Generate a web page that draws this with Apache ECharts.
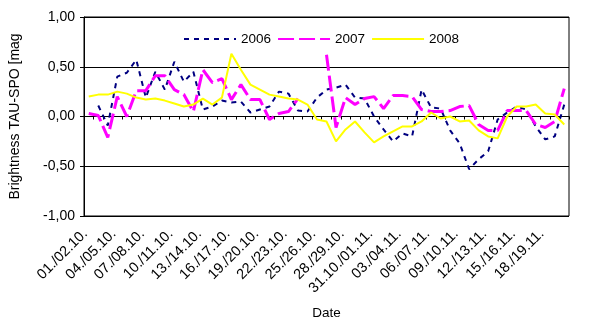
<!DOCTYPE html>
<html><head><meta charset="utf-8">
<script src="https://cdn.jsdelivr.net/npm/echarts@6/dist/echarts.min.js"></script>
<style>html,body{margin:0;padding:0;background:#fff}#c{width:589px;height:334px}</style>
</head><body><div id="c"></div>
<script>
const categories = ["01./02.10.","02./03.10.","03./04.10.","04./05.10.","05./06.10.","06./07.10.","07./08.10.","08./09.10.","09./10.10.","10./11.10.","11./12.10.","12./13.10.","13./14.10.","14./15.10.","15./16.10.","16./17.10.","17./18.10.","18./19.10.","19./20.10.","20./21.10.","21./22.10.","22./23.10.","23./24.10.","24./25.10.","25./26.10.","26./27.10.","27./28.10.","28./29.10.","29./30.10.","30./31.10.","31.10./01.11.","01./02.11.","02./03.11.","03./04.11.","04./05.11.","05./06.11.","06./07.11.","07./08.11.","08./09.11.","09./10.11.","10./11.11.","11./12.11.","12./13.11.","13./14.11.","14./15.11.","15./16.11.","16./17.11.","17./18.11.","18./19.11.","19./20.11.","20./21.11."];
const s2006 = [null,0.11,-0.09,0.40,0.44,0.57,0.19,0.45,0.27,0.55,0.35,0.45,0.07,0.10,0.16,0.14,0.15,0.04,0.07,0.10,0.25,0.23,0.06,0.05,0.19,0.27,0.29,0.32,0.19,0.18,0.00,-0.13,-0.25,-0.17,-0.20,0.27,0.09,0.08,-0.14,-0.27,-0.53,-0.43,-0.35,-0.03,0.04,0.10,0.07,-0.10,-0.23,-0.20,0.12];
const s2007 = [0.03,0.01,-0.21,0.20,0.00,0.26,0.26,0.41,0.41,0.27,0.22,0.05,0.47,0.34,0.38,0.17,0.32,0.17,0.17,-0.03,0.03,0.05,0.18,null,null,0.62,-0.11,0.19,0.12,0.18,0.20,0.08,0.21,0.21,0.20,0.07,0.05,0.05,0.06,0.10,0.11,-0.08,-0.14,-0.14,0.06,0.06,0.06,-0.08,-0.11,-0.05,0.28];
const s2008 = [0.20,0.22,0.22,0.25,0.23,0.19,0.17,0.18,0.16,0.13,0.10,0.12,0.18,0.12,0.19,0.63,0.47,0.32,0.27,0.22,0.20,0.18,0.17,0.12,-0.03,-0.05,-0.25,-0.13,-0.05,-0.16,-0.26,-0.20,-0.15,-0.10,-0.10,-0.05,0.04,-0.02,0.00,-0.05,-0.04,-0.14,-0.20,-0.22,0.00,0.10,0.10,0.12,0.03,0.02,-0.08];
const seriesNames = ["2006","2007","2008"];
const yMin = -1, yMax = 1, yStep = 0.5;

const FONT = "'Liberation Sans', Arial, sans-serif";
const chart = echarts.init(document.getElementById('c'), null, {renderer:'canvas'});
function mk(name, data, color, width, type){
  return {name, type:'line', data, symbol:'none', showSymbol:false, connectNulls:false,
    lineStyle:{color, width, type, cap:'butt'}, itemStyle:{color}, emphasis:{disabled:true}, animation:false};
}
chart.setOption({
  animation:false,
  backgroundColor:'#fff',
  textStyle:{fontFamily:FONT},
  grid:{left:83, right:20, top:17, height:199, show:true, borderColor:'#000', borderWidth:1, backgroundColor:'transparent', containLabel:false},
  legend:{data:seriesNames, left:178, top:27, itemWidth:52, itemHeight:14, itemGap:6,
    itemStyle:{opacity:0, borderWidth:0},
    textStyle:{fontSize:13.5, color:'#000', fontFamily:FONT}},
  xAxis:{type:'category', data:categories, boundaryGap:true,
    axisLine:{show:true, lineStyle:{color:'#000', width:1}},
    axisTick:{show:true, interval:0, length:3, lineStyle:{color:'#000'}},
    axisLabel:{interval:2, rotate:45, fontSize:14.5, color:'#000', margin:12, padding:[0,5,0,0], fontFamily:FONT},
    splitLine:{show:false},
    name:'Date', nameLocation:'middle', nameGap:90, nameTextStyle:{fontSize:13.5, color:'#000', fontFamily:FONT}},
  yAxis:{type:'value', min:yMin, max:yMax, interval:yStep,
    axisLine:{show:true, lineStyle:{color:'#000', width:1}},
    axisTick:{show:true, length:4, lineStyle:{color:'#000'}},
    axisLabel:{fontSize:14, color:'#000', margin:9, fontFamily:FONT, formatter:v=>v.toFixed(2).replace('.',',')},
    splitLine:{show:true, lineStyle:{color:'#000', width:1}},
    name:'Brightness TAU-SPO [mag', nameLocation:'middle', nameGap:62, nameRotate:90,
    nameTextStyle:{fontSize:14, color:'#000', fontFamily:FONT}},
  series:[
    mk(seriesNames[0], s2006, '#000080', 2, [5,5]),
    mk(seriesNames[1], s2007, '#FF00FF', 3, [16,5]),
    mk(seriesNames[2], s2008, '#FFFF00', 2, 'solid')
  ]
});
</script></body></html>
